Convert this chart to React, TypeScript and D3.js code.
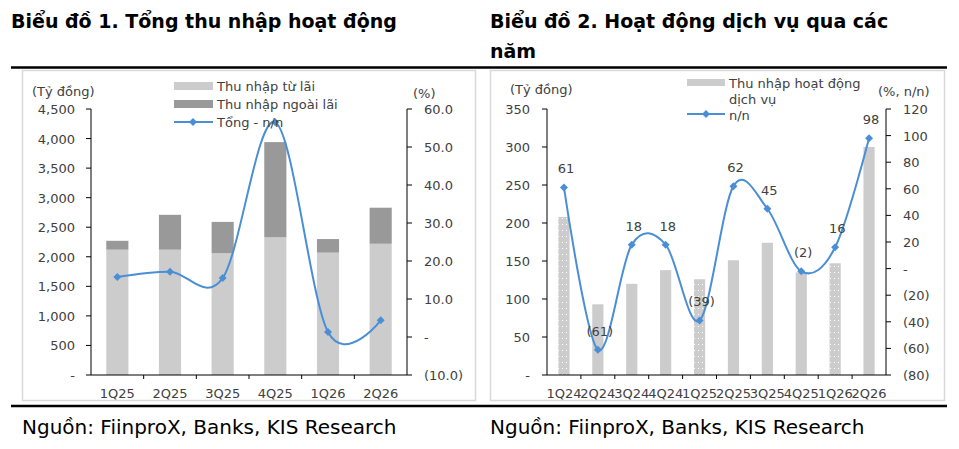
import React from 'react';
import * as d3 from 'd3';

const q1 = ['1Q25', '2Q25', '3Q25', '4Q25', '1Q26', '2Q26'];
const interest = [2120, 2120, 2060, 2330, 2070, 2220];
const nonInterest = [150, 590, 530, 1610, 230, 610];
const totalYoY = [15.8, 17.2, 15.5, 56.5, 1.3, 4.4];

const q2 = ['1Q24', '2Q24', '3Q24', '4Q24', '1Q25', '2Q25', '3Q25', '4Q25', '1Q26', '2Q26'];
const service = [208, 93, 120, 138, 126, 151, 174, 135, 147, 300];
const serviceYoY = [61, -61, 18, 18, -39, 62, 45, -2, 16, 98];

const leftTicks = [0, 500, 1000, 1500, 2000, 2500, 3000, 3500, 4000, 4500];
const pctTicks1 = [-10, 0, 10, 20, 30, 40, 50, 60];
const leftTicks2 = [0, 50, 100, 150, 200, 250, 300, 350];
const pctTicks2 = [-80, -60, -40, -20, 0, 20, 40, 60, 80, 100, 120];

const FONT = 'DejaVu Sans, Verdana, sans-serif';
const TXT = '#404040';
const BLUE = '#4a8fd6';
const fmt = d3.format(',');
const fmtPct1 = (v: number) => (v === 0 ? '-' : v < 0 ? `(${Math.abs(v).toFixed(1)})` : v.toFixed(1));
const fmtPct2 = (v: number) => (v === 0 ? '-' : v < 0 ? `(${Math.abs(v)})` : `${v}`);

const top = 109, bottom = 375;

function Diamond({ x, y }: { x: number; y: number }) {
  return <path d={`M${x},${y - 4}L${x + 4},${y}L${x},${y + 4}L${x - 4},${y}Z`} fill={BLUE} />;
}

function Chart1() {
  const x0 = 91, x1 = 407;
  const x = d3.scaleBand().domain(q1).range([x0, x1]);
  const y = d3.scaleLinear().domain([0, 4500]).range([bottom, top]);
  const yr = d3.scaleLinear().domain([-10, 60]).range([bottom, top]);
  const bw = x.bandwidth() * 0.42;
  const line = d3.line<number>().x((_, i) => x(q1[i])! + x.bandwidth() / 2).y((d) => yr(d)).curve(d3.curveCardinal.tension(0));
  return (
    <g fontFamily={FONT} fill={TXT}>
      <rect x={22.5} y={70.5} width={453} height={330} fill="none" stroke="#d9d9d9" strokeWidth={1.5} />
      {q1.map((c, i) => {
        const cx = x(c)! + x.bandwidth() / 2;
        return (
          <g key={c}>
            <rect x={cx - bw / 2} y={y(interest[i])} width={bw} height={bottom - y(interest[i])} fill="#cccccc" />
            <rect x={cx - bw / 2} y={y(interest[i] + nonInterest[i])} width={bw} height={y(interest[i]) - y(interest[i] + nonInterest[i])} fill="#999999" />
            <text x={cx} y={bottom + 23} textAnchor="middle" fontSize={13}>{c}</text>
          </g>
        );
      })}
      <path d={line(totalYoY)!} fill="none" stroke={BLUE} strokeWidth={2} />
      {totalYoY.map((v, i) => <Diamond key={i} x={x(q1[i])! + x.bandwidth() / 2} y={yr(v)} />)}
      <line x1={x0} x2={x0} y1={top} y2={bottom} stroke="#000" />
      <line x1={x1} x2={x1} y1={top} y2={bottom} stroke="#000" />
      <line x1={x0} x2={x1} y1={bottom} y2={bottom} stroke="#000" />
      {q1.map((c, i) => i > 0 && <line key={c} x1={x(c)} x2={x(c)} y1={bottom} y2={bottom + 4} stroke="#000" />)}
      {leftTicks.map((t) => (
        <g key={t}>
          <line x1={x0 - 5} x2={x0} y1={y(t)} y2={y(t)} stroke="#000" />
          <text x={75} y={y(t) + 5} textAnchor="end" fontSize={13}>{t === 0 ? '-' : fmt(t)}</text>
        </g>
      ))}
      {pctTicks1.map((t) => (
        <g key={t}>
          <line x1={x1} x2={x1 + 5} y1={yr(t)} y2={yr(t)} stroke="#000" />
          <text x={t < 0 ? 424 : 424} y={yr(t) + 5} textAnchor="start" fontSize={13}>{fmtPct1(t)}</text>
        </g>
      ))}
      <text x={32} y={96} fontSize={13}>(Tỷ đồng)</text>
      <text x={413} y={98} fontSize={13}>(%)</text>
      <rect x={174} y={82} width={39} height={8} fill="#cccccc" />
      <text x={217} y={91} fontSize={13}>Thu nhập từ lãi</text>
      <rect x={174} y={100} width={39} height={8} fill="#999999" />
      <text x={217} y={109} fontSize={13}>Thu nhập ngoài lãi</text>
      <line x1={174} x2={213} y1={122} y2={122} stroke={BLUE} strokeWidth={2} />
      <Diamond x={193} y={122} />
      <text x={217} y={127} fontSize={13}>Tổng - n/n</text>
    </g>
  );
}

function Chart2() {
  const x0 = 547, x1 = 886;
  const x = d3.scaleBand().domain(q2).range([x0, x1]);
  const y = d3.scaleLinear().domain([0, 350]).range([bottom, top]);
  const yr = d3.scaleLinear().domain([-80, 120]).range([bottom, top]);
  const bw = x.bandwidth() * 0.33;
  const cx = (i: number) => x(q2[i])! + x.bandwidth() / 2;
  const line = d3.line<number>().x((_, i) => cx(i)).y((d) => yr(d)).curve(d3.curveCardinal.tension(0));
  return (
    <g fontFamily={FONT} fill={TXT}>
      <defs>
        <pattern id="dots" width={4} height={6} patternUnits="userSpaceOnUse">
          <rect width={4} height={6} fill="#cccccc" />
          <rect x={2} y={2} width={1} height={1} fill="#ffffff" />
        </pattern>
      </defs>
      <rect x={490.5} y={70.5} width={454} height={330} fill="none" stroke="#d9d9d9" strokeWidth={1.5} />
      {q2.map((c, i) => (
        <g key={c}>
          <rect x={cx(i) - bw / 2} y={y(service[i])} width={bw} height={bottom - y(service[i])} fill={c.startsWith('1Q') ? 'url(#dots)' : '#cccccc'} />
          <text x={cx(i)} y={bottom + 23} textAnchor="middle" fontSize={13}>{c}</text>
        </g>
      ))}
      <path d={line(serviceYoY)!} fill="none" stroke={BLUE} strokeWidth={2} />
      {serviceYoY.map((v, i) => (
        <g key={i}>
          <Diamond x={cx(i)} y={yr(v)} />
          <text x={cx(i) + 2} y={yr(v) - 14} textAnchor="middle" fontSize={13}>{fmtPct2(v)}</text>
        </g>
      ))}
      <line x1={x0} x2={x0} y1={top} y2={bottom} stroke="#000" />
      <line x1={x1} x2={x1} y1={top} y2={bottom} stroke="#000" />
      <line x1={x0} x2={x1} y1={bottom} y2={bottom} stroke="#000" />
      {q2.map((c, i) => i > 0 && <line key={c} x1={x(c)} x2={x(c)} y1={bottom} y2={bottom + 4} stroke="#000" />)}
      {leftTicks2.map((t) => (
        <g key={t}>
          <line x1={x0 - 5} x2={x0} y1={y(t)} y2={y(t)} stroke="#000" />
          <text x={530} y={y(t) + 5} textAnchor="end" fontSize={13}>{t === 0 ? '-' : t}</text>
        </g>
      ))}
      {pctTicks2.map((t) => (
        <g key={t}>
          <line x1={x1} x2={x1 + 5} y1={yr(t)} y2={yr(t)} stroke="#000" />
          <text x={903} y={yr(t) + 5} textAnchor="start" fontSize={13}>{fmtPct2(t)}</text>
        </g>
      ))}
      <text x={510} y={94} fontSize={13}>(Tỷ đồng)</text>
      <text x={878} y={96} fontSize={13}>(%, n/n)</text>
      <rect x={687} y={79} width={38} height={7} fill="#cccccc" />
      <text x={729} y={88} fontSize={13}>Thu nhập hoạt động</text>
      <text x={729} y={104} fontSize={13}>dịch vụ</text>
      <line x1={687} x2={725} y1={114} y2={114} stroke={BLUE} strokeWidth={2} />
      <Diamond x={706} y={114} />
      <text x={729} y={120} fontSize={13}>n/n</text>
    </g>
  );
}

export default function App() {
  return (
    <svg width={959} height={449} style={{ display: 'block', margin: -8 }} fontFamily={FONT}>
      <rect width={959} height={449} fill="#fff" />
      <text x={11} y={28} fontSize={19} fontWeight="bold" fill="#000">Biểu đồ 1. Tổng thu nhập hoạt động</text>
      <text x={490} y={28} fontSize={19} fontWeight="bold" fill="#000">Biểu đồ 2. Hoạt động dịch vụ qua các</text>
      <text x={490} y={58} fontSize={19} fontWeight="bold" fill="#000">năm</text>
      <line x1={11} x2={480} y1={67.5} y2={67.5} stroke="#000" strokeWidth={2.5} />
      <line x1={480} x2={947} y1={67.5} y2={67.5} stroke="#000" strokeWidth={2.5} />
      <Chart1 />
      <Chart2 />
      <line x1={11} x2={947} y1={406} y2={406} stroke="#000" strokeWidth={2.5} />
      <text x={22} y={434} fontSize={20} fill="#000">Nguồn: FiinproX, Banks, KIS Research</text>
      <text x={490} y={434} fontSize={20} fill="#000">Nguồn: FiinproX, Banks, KIS Research</text>
    </svg>
  );
}
